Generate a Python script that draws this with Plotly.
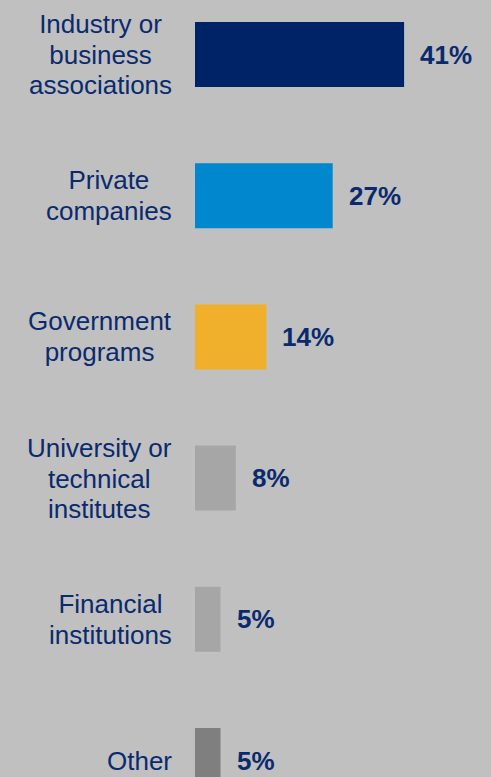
import plotly.graph_objects as go

# Survey shares by source type
categories = [
    "Industry or<br>business<br>associations",
    "Private<br>companies",
    "Government<br>programs",
    "University or<br>technical<br>institutes",
    "Financial<br>institutions",
    "Other",
]
values = [41, 27, 14, 8, 5, 5]
value_labels = ["41%", "27%", "14%", "8%", "5%", "5%"]
bar_colors = ["#002266", "#0087CE", "#F0B02C", "#A6A6A6", "#A6A6A6", "#7F7F7F"]

NAVY = "#0A2A6E"
BG = "#C0C0C0"
FONT = "Liberation Sans, Arial, sans-serif"

W, H = 491, 777
base_px = 195          # pixel position of the zero line
px_per_unit = 5.1      # horizontal pixels per percentage point
row_px = 141.2         # vertical distance between rows
first_center_px = 54.5

x_range = [-base_px / px_per_unit, (W - base_px) / px_per_unit]
y_range = [(H - first_center_px) / row_px, -first_center_px / row_px]

fig = go.Figure(
    go.Bar(
        x=values,
        y=categories,
        orientation="h",
        marker=dict(color=bar_colors, line=dict(width=0)),
        width=0.46,
        hoverinfo="skip",
    )
)

# category names, centred multi-line blocks placed left of the bars.
# The base font size sets the line pitch (1.3 em); each line's glyphs are
# drawn a little larger for a tighter leading.
LABEL_PX = 26
for cat in categories:
    lines = cat.split("<br>")
    styled = "<br>".join(
        f'<span style="font-size:{LABEL_PX}px">{ln}</span>' for ln in lines
    )
    fig.add_annotation(
        x=0, y=cat, xref="x", yref="y",
        text=styled, showarrow=False,
        xanchor="right", yanchor="middle", align="center",
        xshift=-21,
        font=dict(family=FONT, size=23.6, color=NAVY),
    )

# value labels just past the end of each bar
for cat, v, lab in zip(categories, values, value_labels):
    fig.add_annotation(
        x=v, y=cat, xref="x", yref="y",
        text=f"<b>{lab}</b>", showarrow=False,
        xanchor="left", yanchor="middle",
        xshift=14,
        font=dict(family=FONT, size=26, color=NAVY),
    )

fig.update_layout(
    width=W, height=H,
    margin=dict(l=0, r=0, t=0, b=0),
    paper_bgcolor=BG, plot_bgcolor=BG,
    showlegend=False,
    xaxis=dict(range=x_range, visible=False, fixedrange=True),
    yaxis=dict(range=y_range, visible=False, fixedrange=True,
               categoryorder="array", categoryarray=categories),
)

fig.write_html("out.html", config={"displayModeBar": False})
